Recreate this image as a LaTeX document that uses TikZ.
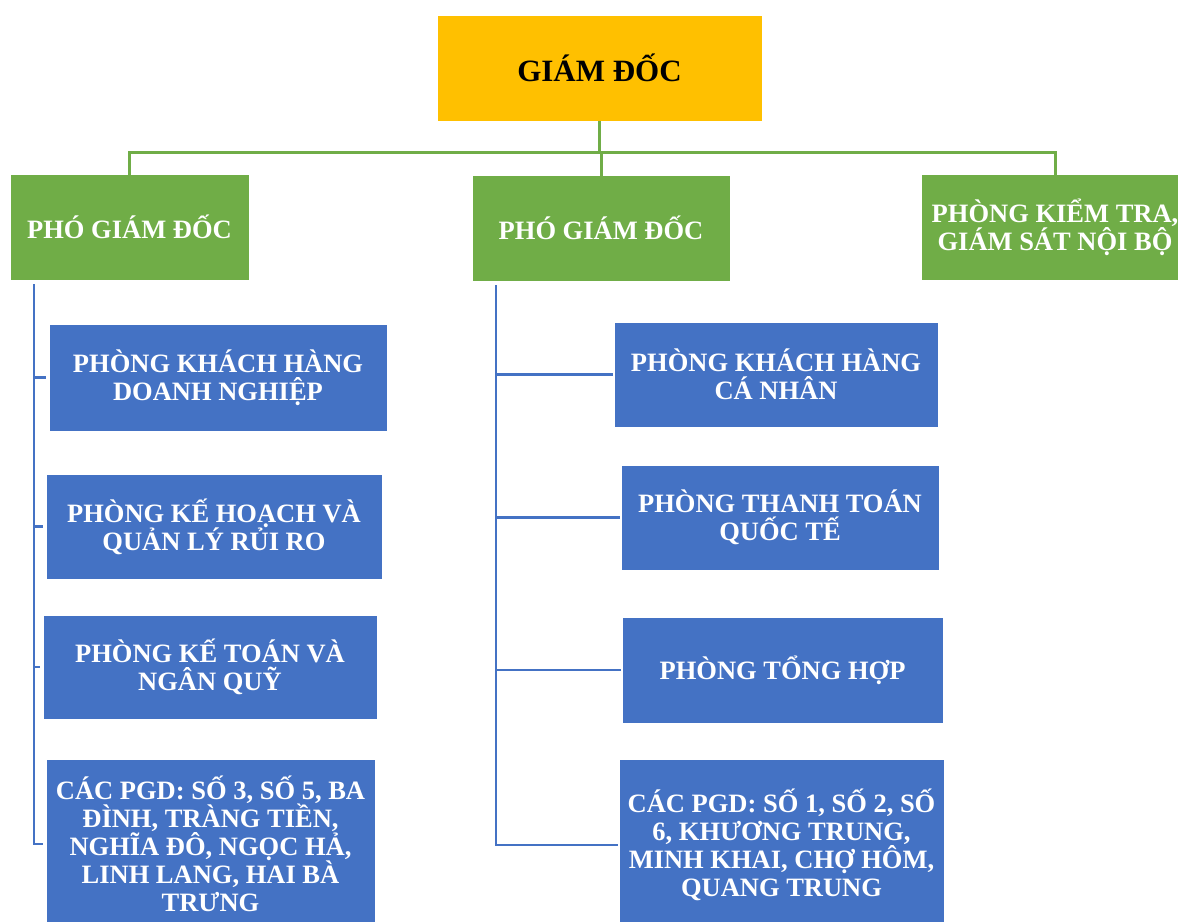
\documentclass[tikz,border=0pt]{standalone}
\usepackage{fontspec}
\setmainfont{Liberation Serif}
\definecolor{vang}{HTML}{FFC000}
\definecolor{xanhla}{HTML}{70AD47}
\definecolor{xanhlam}{HTML}{4472C4}
\begin{document}
\begin{tikzpicture}[x=1pt, y=-1pt,
	hop/.style={draw=white, line width=0.6pt, inner sep=0pt, outer sep=0pt,
		align=center, font=\bfseries\fontsize{26.5}{28}\selectfont, text=white},
	gd/.style={hop, fill=vang, text=black, font=\bfseries\fontsize{31}{33}\selectfont},
	pgd/.style={hop, fill=xanhla},
	phong/.style={hop, fill=xanhlam},
	dayxanh/.style={draw=xanhla, line width=3pt},
	daylam/.style={draw=xanhlam, line width=2.5pt}]

\useasboundingbox (0,0) rectangle (1178,921);
\clip (0,0) rectangle (1178,921);

% Ban giam doc
\node[gd, minimum width=325pt, minimum height=106pt] (GD) at (599.5,68) {GIÁM ĐỐC};

\node[pgd, minimum width=239pt, minimum height=106pt] (PA) at (129.5,227) {PHÓ GIÁM ĐỐC};
\node[pgd, minimum width=258pt, minimum height=106pt] (PB) at (601,228) {PHÓ GIÁM ĐỐC};
\node[pgd, minimum width=268pt, minimum height=106pt] (KT) at (1055,227) {PHÒNG KIỂM TRA,\\GIÁM SÁT NỘI BỘ};

\coordinate (bus) at (599.5,152);
\draw[dayxanh] (GD.south) -- (bus);
\draw[dayxanh] (bus) -| ([yshift=-2pt]PA.north);
\draw[dayxanh] (bus) -| ([yshift=-2pt]KT.north);
\draw[dayxanh] (PB.north |- bus) -- ([yshift=-3pt]PB.north);

% Cac phong ben trai
\node[phong, minimum width=338pt, minimum height=107pt] (A1) at (218,377.5) {PHÒNG KHÁCH HÀNG\\DOANH NGHIỆP};
\node[phong, minimum width=336pt, minimum height=105pt] (A2) at (214,526.5) {PHÒNG KẾ HOẠCH VÀ\\QUẢN LÝ RỦI RO};
\node[phong, minimum width=334pt, minimum height=104pt] (A3) at (210,667) {PHÒNG KẾ TOÁN VÀ\\NGÂN QUỸ};
\node[phong, minimum width=329pt, minimum height=170pt] (A4) at (210.5,844) {CÁC PGD: SỐ 3, SỐ 5, BA\\ĐÌNH, TRÀNG TIỀN,\\NGHĨA ĐÔ, NGỌC HẢ,\\LINH LANG, HAI BÀ\\TRƯNG};

% Cac phong o giua
\node[phong, minimum width=324pt, minimum height=105pt] (B1) at (776,374.5) {PHÒNG KHÁCH HÀNG\\CÁ NHÂN};
\node[phong, minimum width=318pt, minimum height=105pt] (B2) at (780,517.5) {PHÒNG THANH TOÁN\\QUỐC TẾ};
\node[phong, minimum width=321pt, minimum height=106pt] (B3) at (782.5,670) {PHÒNG TỔNG HỢP};
\node[phong, minimum width=325pt, minimum height=172pt] (B4) at (781.5,845) {CÁC PGD: SỐ 1, SỐ 2, SỐ\\6, KHƯƠNG TRUNG,\\MINH KHAI, CHỢ HÔM,\\QUANG TRUNG};

\coordinate (CA) at ([xshift=24pt,yshift=-4pt]PA.south west);
\coordinate (CB) at ([xshift=24pt,yshift=-4pt]PB.south west);
\foreach \b in {A1, A2, A3, A4}
	\draw[daylam] (CA) |- ([xshift=-3pt]\b.west);
\foreach \b in {B1, B2, B3, B4}
	\draw[daylam] (CB) |- ([xshift=-1pt]\b.west);
\end{tikzpicture}
\end{document}
